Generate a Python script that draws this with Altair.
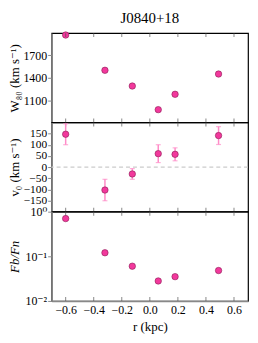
import altair as alt
import pandas as pd

# data
r = [-0.60, -0.32, -0.125, 0.06, 0.18, 0.49]
w80 = [1970, 1500, 1290, 975, 1180, 1450]
v0 = [147, -103, -31, 60, 57, 141]
v0_err = [47, 48, 24, 40, 29, 40]
ratio = [0.70, 0.12, 0.060, 0.028, 0.035, 0.048]

x_ticks = [-0.6, -0.4, -0.2, 0.0, 0.2, 0.4, 0.6]
w_ticks = [1100, 1400, 1700]
v_ticks = [-150, -100, -50, 0, 50, 100, 150]
f_ticks = [0.01, 0.1, 1]

df = pd.DataFrame({
    "r": r, "w80": w80, "v0": v0,
    "lo": [v - e for v, e in zip(v0, v0_err)],
    "hi": [v + e for v, e in zip(v0, v0_err)],
    "ratio": ratio,
})
tick_df = pd.DataFrame({"r": x_ticks})

FONT = "Liberation Serif, Times New Roman, DejaVu Serif, serif"
FILL = "#f2389c"
EDGE = "#8a1c55"
ERR = "#ff8cc8"
W, H = 198, 90
TX = -37

xscale = alt.Scale(domain=[-0.7, 0.7], nice=False, zero=False)
x_hidden = alt.X("r:Q", scale=xscale, axis=None)
xaxis3 = alt.Axis(title="r (kpc)", values=x_ticks, format=".1f", ticks=False,
                  grid=False, labelPadding=4, titleFontSize=13,
                  titleFontWeight="normal", titlePadding=5,
                  domainColor="#888888", domainWidth=1.5, labelFlush=False)
x_shown = alt.X("r:Q", scale=xscale, axis=xaxis3)


def yaxis(title, values, **kw):
    return alt.Axis(title=title, values=values, ticks=True, tickSize=4,
                    tickColor="#888888", tickWidth=1, grid=False,
                    labelPadding=1, titleX=TX, titleBaseline="middle",
                    titleFontSize=13, titleFontWeight="normal",
                    labelFlush=False, labelOverlap=False, **kw)


def xticks_inside(xenc):
    top = alt.Chart(tick_df).mark_tick(color="#555555", orient="vertical", size=4,
                                       thickness=1).encode(x=xenc, y=alt.value(2))
    bot = alt.Chart(tick_df).mark_tick(color="#555555", orient="vertical", size=4,
                                       thickness=1).encode(x=xenc, y=alt.value(H - 2))
    return [top, bot]


pts = dict(filled=True, size=42, color=FILL, stroke=EDGE, strokeWidth=0.6, opacity=1)

dots1 = alt.Chart(df).mark_point(**pts).encode(
    x=x_hidden,
    y=alt.Y("w80:Q", scale=alt.Scale(domain=[805, 1995], nice=False, zero=False),
            axis=yaxis("W₈₀ (km s⁻¹)", w_ticks, format="d")),
)
p1 = alt.layer(dots1, *xticks_inside(x_hidden),
               title=alt.Title("J0840+18", fontSize=15, fontWeight="normal",
                               offset=5, anchor="middle", font=FONT)).properties(width=W, height=H)

vscale = alt.Scale(domain=[-200, 200], nice=False)
vaxis = yaxis("v₀ (km s⁻¹)", v_ticks, format="d", labelFontSize=11.5)

base2 = alt.Chart(df)
zero = alt.Chart(pd.DataFrame({"z": [0]})).mark_rule(
    color="#cccccc", strokeDash=[4, 3], strokeWidth=1.3).encode(
    y=alt.Y("z:Q", scale=vscale, axis=vaxis))
err = base2.mark_rule(color=ERR, strokeWidth=1.5).encode(
    x=x_hidden, y=alt.Y("lo:Q", scale=vscale, axis=vaxis), y2="hi:Q")
caps_lo = base2.mark_tick(color=ERR, orient="horizontal", size=5, thickness=1.2).encode(
    x=x_hidden, y=alt.Y("lo:Q", scale=vscale, axis=vaxis))
caps_hi = base2.mark_tick(color=ERR, orient="horizontal", size=5, thickness=1.2).encode(
    x=x_hidden, y=alt.Y("hi:Q", scale=vscale, axis=vaxis))
dots2 = base2.mark_point(**pts).encode(
    x=x_hidden,
    y=alt.Y("v0:Q", scale=vscale, axis=vaxis),
)
p2 = alt.layer(zero, *xticks_inside(x_hidden), err, caps_lo, caps_hi, dots2).properties(width=W, height=H)

dots3 = alt.Chart(df).mark_point(**pts).encode(
    x=x_shown,
    y=alt.Y("ratio:Q", scale=alt.Scale(type="log", domain=[0.01, 1], nice=False),
            axis=yaxis("Fb/Fn", f_ticks, titleFontStyle="italic",
                       labelExpr="datum.value >= 1 ? '10⁰' : (datum.value >= 0.1 ? '10⁻¹' : '10⁻²')")),
)
p3 = alt.layer(dots3, *xticks_inside(x_shown)).properties(width=W, height=H)

chart = alt.vconcat(p1, p2, p3, spacing=0, bounds="flush").properties(padding=0).configure(
    font=FONT,
).configure_view(stroke="black", strokeWidth=1.2).configure_axis(
    labelFont=FONT, titleFont=FONT,
    labelFontSize=12, labelColor="black", titleColor="black",
    domainColor="#888888", domainWidth=1.5,
).configure_title(font=FONT, color="black")

chart.save("out.html", embed_options={"renderer": "svg", "actions": False})
